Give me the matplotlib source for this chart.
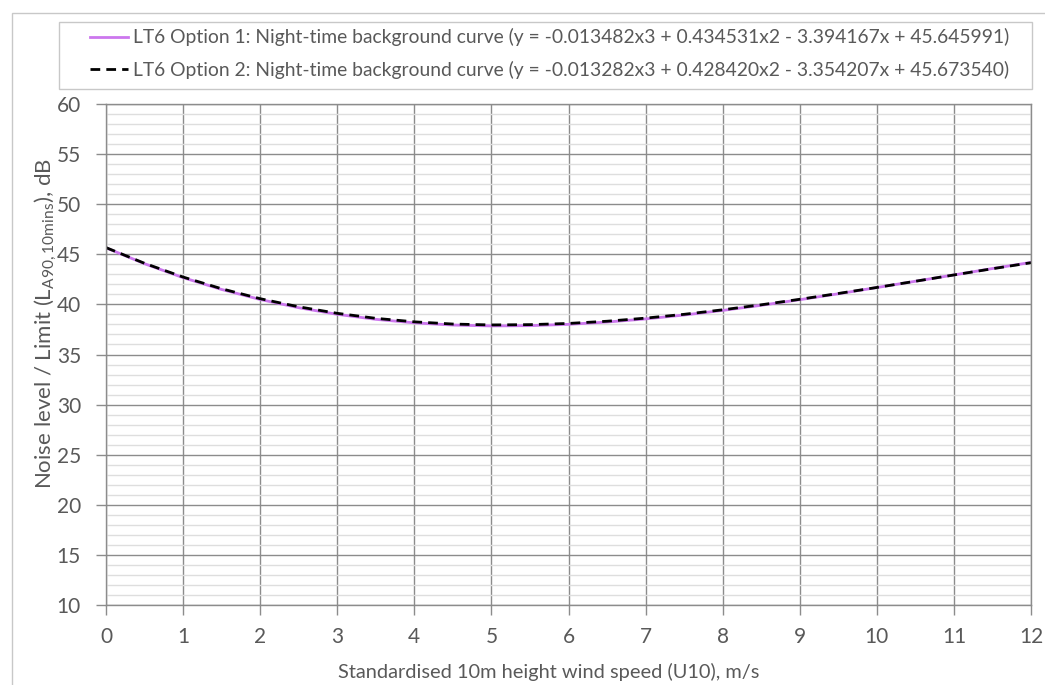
import matplotlib
matplotlib.use("Agg")
import matplotlib.pyplot as plt
from matplotlib.patches import Rectangle
from matplotlib.ticker import MultipleLocator

plt.rcParams['font.family'] = ['Lato', 'DejaVu Sans']
plt.rcParams['mathtext.fontset'] = 'custom'
plt.rcParams['mathtext.rm'] = 'Lato'

wind_speed = [0, 0.5, 1, 1.5, 2, 2.5, 3, 3.5, 4, 4.5, 5, 5.5, 6, 6.5, 7, 7.5,
              8, 8.5, 9, 9.5, 10, 10.5, 11, 11.5, 12]
option1 = [45.65, 44.06, 42.67, 41.49, 40.49, 39.67, 39.01, 38.51, 38.16, 37.94,
           37.85, 37.88, 38.01, 38.24, 38.55, 38.94, 39.40, 39.91, 40.47, 41.06,
           41.68, 42.31, 42.94, 43.58, 44.19]
option2 = [45.67, 44.10, 42.73, 41.56, 40.57, 39.76, 39.11, 38.61, 38.26, 38.04,
           37.95, 37.98, 38.10, 38.32, 38.63, 39.01, 39.46, 39.96, 40.51, 41.09,
           41.69, 42.31, 42.94, 43.56, 44.16]
label1 = "LT6 Option 1: Night-time background curve (y = -0.013482x3 + 0.434531x2 - 3.394167x + 45.645991)"
label2 = "LT6 Option 2: Night-time background curve (y = -0.013282x3 + 0.428420x2 - 3.354207x + 45.673540)"

W, H = 1045, 685
fig = plt.figure(figsize=(W / 100, H / 100), dpi=100)
fig.patch.set_facecolor('white')

# outer chart border (cropped on right and bottom)
fig.patches.append(Rectangle((11.5 / W, -0.05), 1.2, 1 - 12.5 / H + 0.05,
                             transform=fig.transFigure, fill=False,
                             edgecolor='#c8c8c8', linewidth=1.0))
# legend frame
fig.patches.append(Rectangle((58.5 / W, 1 - 88.5 / H), (1031 - 58) / W, (88 - 22) / H,
                             transform=fig.transFigure, fill=False,
                             edgecolor='#c8c8c8', linewidth=1.0))

ax = fig.add_axes([106 / W, 1 - 605 / H, (1031 - 106) / W, (605 - 104) / H])
ax.set_xlim(0, 12)
ax.set_ylim(10, 60)
ax.xaxis.set_major_locator(MultipleLocator(1))
ax.yaxis.set_major_locator(MultipleLocator(5))
ax.yaxis.set_minor_locator(MultipleLocator(1))

ax.grid(which='minor', axis='y', color='#dedede', linewidth=1.0)
ax.grid(which='major', axis='both', color='#8c8c8c', linewidth=1.0)
ax.set_axisbelow(True)

for s in ax.spines.values():
    s.set_color('#8c8c8c')
    s.set_linewidth(1.0)

ax.tick_params(axis='both', which='major', length=7, width=1.0, color='#8c8c8c',
               labelcolor='#595959', labelsize=15)
ax.tick_params(axis='x', pad=9)
ax.tick_params(axis='y', pad=11)
ax.tick_params(which='minor', length=0)

l1, = ax.plot(wind_speed, option1, color='#cc77ee', linewidth=2.0, label=label1)
l2, = ax.plot(wind_speed, option2, color='black', linewidth=2.0,
              dashes=(3.5, 2.2), label=label2)

ax.set_xlabel("Standardised 10m height wind speed (U10), m/s", color='#595959',
              fontsize=14.4, labelpad=11)
ax.xaxis.label.set_x((549 - 106) / 925)
ax.set_ylabel(r"Noise level / Limit (L$_{\mathregular{A90,10mins}}$), dB",
              color='#595959', fontsize=16)
ax.yaxis.set_label_coords((59 - 106) / 925, (605 - 323.5) / 501)

leg = fig.legend(handles=[l1, l2], loc='center',
                 bbox_to_anchor=((58 + 1031) / 2 / W + 5 / W, 1 - 53.5 / H),
                 frameon=False, fontsize=13.9,
                 handlelength=2.0, handletextpad=0.25, borderpad=0,
                 labelspacing=0.75, borderaxespad=0)
for t in leg.get_texts():
    t.set_color('#595959')

fig.savefig('out.png', dpi=100, facecolor='white')
